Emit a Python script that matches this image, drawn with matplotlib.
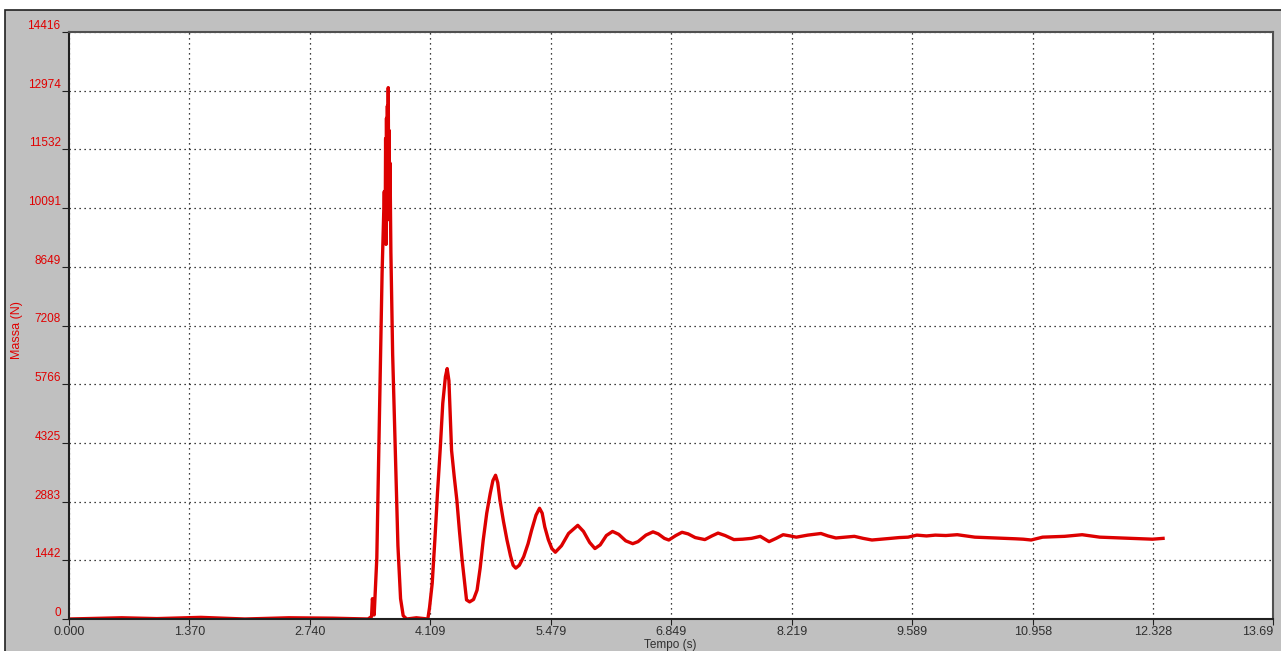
import matplotlib
matplotlib.use("Agg")
import matplotlib.pyplot as plt
from matplotlib.patches import Rectangle

# force signal (N) vs time (s)
tempo = [0.00, 0.60, 1.00, 1.50, 2.00, 2.50, 3.00, 3.40, 3.44, 3.45, 3.47,
         3.50, 3.53, 3.56, 3.585, 3.595, 3.60, 3.605, 3.61, 3.615, 3.62,
         3.625, 3.63, 3.635, 3.64, 3.645, 3.65, 3.66, 3.68, 3.71, 3.74,
         3.77, 3.80, 3.84, 3.95, 4.08, 4.10, 4.13, 4.16, 4.19, 4.22, 4.25,
         4.28, 4.30, 4.32, 4.35, 4.38, 4.41, 4.44, 4.47, 4.50, 4.52, 4.555,
         4.60, 4.64, 4.675, 4.71, 4.75, 4.79, 4.82, 4.85, 4.875, 4.90, 4.94,
         4.98, 5.02, 5.05, 5.08, 5.12, 5.17, 5.22, 5.26, 5.31, 5.35, 5.38,
         5.41, 5.45, 5.49, 5.53, 5.60, 5.68, 5.785, 5.85, 5.92, 5.98, 6.04,
         6.11, 6.18, 6.25, 6.33, 6.41, 6.47, 6.56, 6.64, 6.70, 6.77, 6.82,
         6.90, 6.97, 7.04, 7.12, 7.23, 7.31, 7.38, 7.46, 7.56, 7.66, 7.76,
         7.86, 7.96, 8.04, 8.12, 8.20, 8.27, 8.40, 8.55, 8.63, 8.72, 8.82,
         8.93, 9.03, 9.13, 9.24, 9.34, 9.44, 9.54, 9.64, 9.75, 9.85, 9.97,
         10.10, 10.20, 10.30, 10.42, 10.55, 10.66, 10.76, 10.85, 10.94, 11.07,
         11.20, 11.32, 11.42, 11.52, 11.62, 11.72, 11.85, 11.98, 12.08, 12.19,
         12.32, 12.44]
massa = [0, 30, 10, 40, 0, 30, 20, 0, 60, 500, 100,
         1500, 5000, 8500, 10500, 9500, 11800, 9200, 12300, 10000, 12600,
         10500, 13050, 10200, 12000, 9800, 11200, 9000, 6500, 4100, 1800,
         500, 80, 0, 30, 0, 290, 880, 1940, 3100, 4140, 5300,
         5950, 6150, 5850, 4140, 3500, 2920, 2150, 1450, 850, 470, 420,
         480, 710, 1250, 1940, 2600, 3090, 3400, 3530, 3350, 2920, 2400,
         1940, 1550, 1320, 1250, 1320, 1530, 1850, 2180, 2550, 2720, 2600,
         2260, 1950, 1730, 1640, 1800, 2100, 2300, 2150, 1880, 1730, 1820,
         2050, 2150, 2080, 1920, 1850, 1900, 2060, 2140, 2090, 1980, 1940,
         2050, 2130, 2090, 2000, 1950, 2040, 2110, 2050, 1950, 1960, 1980,
         2030, 1900, 1980, 2070, 2040, 2010, 2060, 2100, 2040, 1990, 2010,
         2030, 1980, 1940, 1960, 1980, 2000, 2010, 2060, 2040, 2060, 2050,
         2070, 2040, 2010, 2000, 1990, 1980, 1970, 1960, 1940, 2010,
         2020, 2030, 2050, 2070, 2040, 2010, 2000, 1990, 1980, 1970,
         1960, 1980]

x_ticks = [0.000, 1.370, 2.740, 4.109, 5.479, 6.849, 8.219, 9.589, 10.958, 12.328, 13.69]
x_labels = ["0.000", "1.370", "2.740", "4.109", "5.479", "6.849", "8.219", "9.589", "10.958", "12.328", "13.69"]
y_ticks = [0, 1442, 2883, 4325, 5766, 7208, 8649, 10091, 11532, 12974, 14416]

plt.rcParams["font.family"] = ["Liberation Sans", "DejaVu Sans"]

W, H = 1281, 651
fig = plt.figure(figsize=(W / 100, H / 100), dpi=100, facecolor="white")
# grey panel with dark frame behind the plot
panel = Rectangle((5 / W, -0.01), 1.05, 1 - 10 / H + 0.01, transform=fig.transFigure,
                  facecolor="#c0c0c0", edgecolor="#202020", linewidth=1.2, zorder=-10)
fig.patches.append(panel)

ax = fig.add_axes([69 / W, 32 / H, (1273 - 69) / W, (619 - 32) / H])
ax.set_zorder(5)
ax.set_facecolor("white")
ax.plot(tempo, massa, color="#dd0000", linewidth=2.4, solid_joinstyle="round")

ax.set_xlim(0, 13.69)
ax.set_ylim(0, 14416)
ax.set_xticks(x_ticks)
ax.set_xticklabels(x_labels, color="#303030", fontsize=9)
ax.get_xticklabels()[-1].set_horizontalalignment("right")
ax.set_yticks(y_ticks)
ax.set_yticklabels([str(v) for v in y_ticks], color="#e00000", fontsize=8.5, va="bottom")
ax.tick_params(axis="x", length=4, pad=1, color="#202020")
ax.tick_params(axis="y", length=5, pad=1, color="#202020")
ax.grid(True, color="black", linestyle=(0, (1, 3)), linewidth=0.9)

for side in ("left", "bottom"):
    ax.spines[side].set_color("#202020")
    ax.spines[side].set_linewidth(1.5)
for side in ("right", "top"):
    ax.spines[side].set_color("#505050")
    ax.spines[side].set_linewidth(1.5)

fig.text(670 / W, 1 - 645 / H, "Tempo (s)", color="#303030", fontsize=8.5, ha="center", va="center")
fig.text(17 / W, 1 - 330 / H, "Massa (N)", color="#e00000", fontsize=9,
         rotation=90, ha="center", va="center")

fig.savefig("out.png", dpi=100, facecolor=fig.get_facecolor())
